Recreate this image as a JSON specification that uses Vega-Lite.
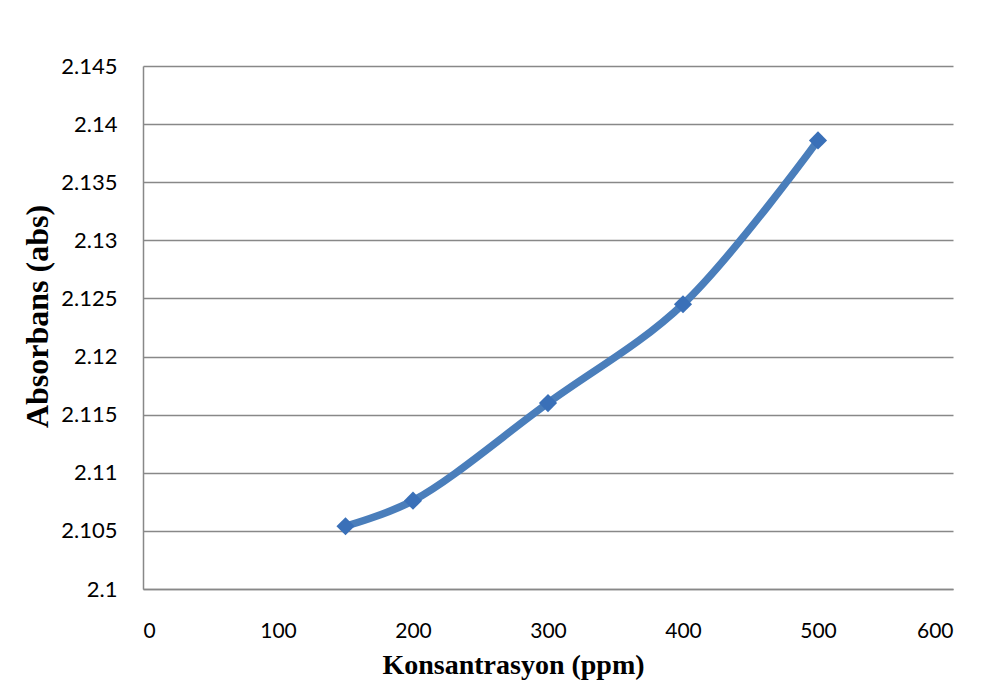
{
  "$schema": "https://vega.github.io/schema/vega-lite/v6.json",
  "width": 810,
  "height": 523,
  "autosize": {"type": "none"},
  "padding": {"left": 143, "top": 66, "right": 47, "bottom": 101},
  "background": "white",
  "config": {"view": {"stroke": null}},
  "data": {"values": [
    {"ppm": 150, "abs": 2.1054},
    {"ppm": 200, "abs": 2.1076},
    {"ppm": 300, "abs": 2.116},
    {"ppm": 400, "abs": 2.1245},
    {"ppm": 500, "abs": 2.1386}
  ]},
  "encoding": {
    "x": {"field": "ppm", "type": "quantitative",
      "scale": {"domain": [0, 600], "nice": false},
      "axis": {"title": "Konsantrasyon (ppm)", "values": [0,100,200,300,400,500,600],
        "grid": false, "ticks": false, "tickSize": 0, "domain": true, "domainColor": "#888888", "domainWidth": 1.5,
        "labelFont": "Lato", "labelFontSize": 21, "labelColor": "#000000", "labelPadding": 31,
        "titleFont": "Liberation Serif", "titleFontSize": 28, "titleFontWeight": "bold", "titleColor": "#000000",
        "titleX": 370, "titleY": 84, "titleBaseline": "alphabetic", "titleAnchor": null}},
    "y": {"field": "abs", "type": "quantitative",
      "scale": {"domain": [2.1, 2.145], "nice": false, "zero": false},
      "axis": {"title": "Absorbans (abs)", "values": [2.1,2.105,2.11,2.115,2.12,2.125,2.13,2.135,2.14,2.145],
        "format": ".3~f",
        "grid": true, "gridColor": "#888888", "gridWidth": 1.5,
        "ticks": false, "tickSize": 0, "domain": true, "domainColor": "#888888", "domainWidth": 1.5,
        "labelFont": "Lato", "labelFontSize": 22, "labelColor": "#000000", "labelPadding": 26,
        "titleFont": "Liberation Serif", "titleFontSize": 32, "titleFontWeight": "bold", "titleColor": "#000000",
        "titleX": -106, "titleY": 250, "titleAngle": -90, "titleBaseline": "middle", "titleAlign": "center"}}
  },
  "layer": [
    {"mark": {"type": "line", "interpolate": "catmull-rom", "color": "#4a7ebb", "strokeWidth": 7.5}},
    {"mark": {"type": "point", "shape": "diamond", "filled": true, "color": "#3a70b8", "size": 330, "opacity": 1}}
  ]
}
